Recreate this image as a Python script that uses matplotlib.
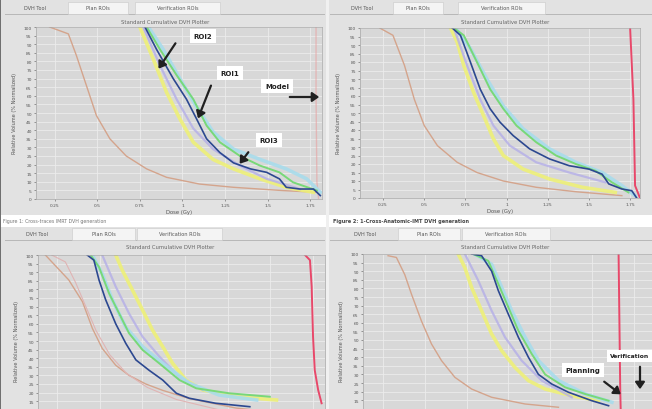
import numpy as np
import matplotlib
matplotlib.use("Agg")
import matplotlib.pyplot as plt
from matplotlib.patches import Rectangle, FancyArrowPatch

W, H = 652, 410

# ---- data (dose in Gy, relative volume in %) ----
# panel 1 (top left)
p1_tan_x = [0.22, 0.33, 0.377, 0.436, 0.495, 0.574, 0.67, 0.79, 0.907, 1.10, 1.30, 1.59, 1.79]
p1_tan_y = [100, 96, 83.5, 66, 48.5, 35, 25, 17.5, 12.6, 8.7, 6.8, 4.9, 3.9]
p1_yel_x = [0.75, 0.828, 0.907, 0.985, 1.064, 1.18, 1.30, 1.456, 1.61, 1.77]
p1_yel_y = [100, 81.5, 62, 46.6, 33, 23, 17.5, 11.7, 6.8, 3.9]
p1_lav_x = [0.77, 0.868, 0.966, 1.064, 1.18, 1.338, 1.495, 1.69]
p1_lav_y = [100, 77.7, 58, 41, 29, 19.4, 11.7, 5.8]
p1_cyan_x = [0.80, 0.887, 0.985, 1.08, 1.18, 1.30, 1.456, 1.61, 1.73, 1.81]
p1_cyan_y = [100, 87, 70, 54, 39, 29, 23, 17.5, 11.7, 3.9]
p1_grn_x = [0.79, 0.868, 0.966, 1.064, 1.142, 1.22, 1.338, 1.456, 1.57, 1.65, 1.79]
p1_grn_y = [100, 87, 72, 58, 42.7, 33, 25, 19.4, 15.5, 9.7, 4.9]
p1_blue_x = [0.78, 0.848, 0.946, 1.024, 1.083, 1.142, 1.22, 1.30, 1.40, 1.495, 1.57, 1.61, 1.69, 1.77, 1.81]
p1_blue_y = [100, 87, 70, 58, 46.6, 35, 27, 21, 17.5, 15.5, 11.7, 6.8, 5.8, 5.8, 2]
p1_red_x = [1.785, 1.785, 1.79, 1.80]
p1_red_y = [100, 60, 10, 0]

# panel 2 (top right)
p2_tan_x = [0.23, 0.31, 0.38, 0.44, 0.50, 0.58, 0.70, 0.82, 0.98, 1.18, 1.42, 1.70]
p2_tan_y = [100, 95.7, 78, 58, 42.6, 30.8, 21, 15, 10, 6.3, 3.7, 1.4]
p2_yel_x = [0.66, 0.70, 0.74, 0.80, 0.86, 0.92, 0.98, 1.10, 1.26, 1.46, 1.66]
p2_yel_y = [100, 91.7, 78, 62, 48.5, 34.8, 25, 17, 11.2, 6.3, 3.3]
p2_lav_x = [0.68, 0.76, 0.84, 0.92, 1.02, 1.18, 1.38, 1.60]
p2_lav_y = [100, 78, 58, 42.6, 30.8, 21, 15, 9.2]
p2_cyan_x = [0.69, 0.78, 0.88, 0.98, 1.10, 1.26, 1.42, 1.58, 1.70, 1.78]
p2_cyan_y = [100, 88, 70, 54, 40.7, 28.9, 21, 15, 7.3, 1.4]
p2_grn_x = [0.68, 0.74, 0.82, 0.90, 0.98, 1.06, 1.18, 1.30, 1.42, 1.54, 1.64, 1.74]
p2_grn_y = [100, 95.7, 80, 64, 52.5, 42.6, 32.8, 25, 20, 16, 9.2, 3.3]
p2_blue_x = [0.67, 0.72, 0.78, 0.84, 0.90, 0.96, 1.04, 1.14, 1.26, 1.38, 1.50, 1.58, 1.62, 1.70, 1.76, 1.79]
p2_blue_y = [100, 95.7, 80, 64, 52.5, 44.6, 36.7, 28.9, 23, 19, 17, 14, 8.3, 5.3, 4.3, 0]
p2_red_x = [1.75, 1.77, 1.78, 1.81]
p2_red_y = [100, 58, 7.3, 0]

# panel 3 (bottom left)
p3_tan_x = [0.183, 0.32, 0.40, 0.458, 0.516, 0.595, 0.673, 0.771, 0.87, 1.026, 1.30, 1.69]
p3_tan_y = [100, 85.5, 72.9, 57.4, 45.7, 35.9, 30, 25, 21.3, 16.5, 11, 7]
p3_rose_x = [0.22, 0.30, 0.36, 0.42, 0.48, 0.56, 0.66, 0.78, 0.95, 1.20]
p3_rose_y = [100, 96, 84, 70, 56, 42, 31, 23, 16, 10]
p3_yel_x = [0.595, 0.634, 0.693, 0.752, 0.81, 0.87, 0.928, 1.006, 1.105, 1.30, 1.536]
p3_yel_y = [100, 91, 79.6, 68, 56.4, 46.7, 37, 27.3, 21.5, 17.6, 15.7]
p3_lav_x = [0.516, 0.595, 0.673, 0.752, 0.85, 0.968, 1.105]
p3_lav_y = [100, 81.6, 66, 52.5, 41, 29, 21.5]
p3_cyan_x = [0.458, 0.516, 0.575, 0.654, 0.752, 0.87, 1.026, 1.20, 1.42]
p3_cyan_y = [100, 89, 74, 58, 46.7, 37, 25.4, 18.6, 15.7]
p3_grn_x = [0.448, 0.497, 0.556, 0.615, 0.673, 0.752, 0.85, 0.968, 1.066, 1.26, 1.497]
p3_grn_y = [100, 93, 77.7, 66, 54.5, 44.8, 37, 27.3, 22.5, 19.6, 17.6]
p3_blue_x = [0.428, 0.467, 0.497, 0.536, 0.595, 0.654, 0.713, 0.79, 0.87, 0.95, 1.026, 1.18, 1.38]
p3_blue_y = [100, 97, 85.5, 74, 60, 48.6, 39, 33, 27.3, 19.6, 16.7, 13.8, 11.8]
p3_red_x = [1.703, 1.732, 1.742, 1.75, 1.76, 1.78, 1.80]
p3_red_y = [100, 97, 81.6, 52.5, 33, 21.5, 13.8]

# panel 4 (bottom right)
p4_tan_x = [0.28, 0.33, 0.38, 0.42, 0.48, 0.54, 0.60, 0.68, 0.78, 0.90, 1.10, 1.30]
p4_tan_y = [99, 98, 88, 76.7, 61, 47.7, 38, 28.3, 21.5, 16.7, 12.8, 10.9]
p4_yel_x = [0.70, 0.74, 0.78, 0.84, 0.90, 0.96, 1.04, 1.12, 1.22, 1.38, 1.54]
p4_yel_y = [100, 92, 80.6, 67, 53.5, 43.8, 34, 26.4, 21.5, 17.6, 14.7]
p4_lav_x = [0.74, 0.82, 0.90, 0.98, 1.08, 1.20, 1.38]
p4_lav_y = [100, 84.5, 67, 51.6, 38, 26.4, 16.7]
p4_cyan_x = [0.80, 0.90, 0.96, 1.02, 1.10, 1.18, 1.30, 1.46, 1.62]
p4_cyan_y = [100, 94, 80.6, 67, 51.6, 38, 26.4, 18.6, 13.8]
p4_grn_x = [0.79, 0.88, 0.94, 1.0, 1.06, 1.14, 1.22, 1.34, 1.46, 1.60]
p4_grn_y = [100, 96, 82.6, 69, 55.4, 41.9, 30, 22.5, 18.6, 14.7]
p4_blue_x = [0.78, 0.84, 0.90, 0.94, 1.0, 1.06, 1.12, 1.18, 1.26, 1.36, 1.50, 1.60]
p4_blue_y = [100, 99, 90, 78.7, 65, 51.6, 40, 30, 24.4, 19.6, 14.7, 11.8]
p4_red_x = [1.66, 1.665, 1.67, 1.675]
p4_red_y = [100, 60, 20, 0]

dose_ticks = [0.25, 0.5, 0.75, 1.0, 1.25, 1.5, 1.75]
dose_labels = ["0.25", "0.5", "0.75", "1", "1.25", "1.5", "1.75"]
vol_ticks = list(range(0, 101, 5))

tab_names = ["DVH Tool", "Plan ROIs", "Verification ROIs"]
plot_title = "Standard Cumulative DVH Plotter"
ylab = "Relative Volume (% Normalized)"
xlab = "Dose (Gy)"
cap1 = "Figure 1: Cross-traces IMRT DVH generation"
cap2 = "Figure 2: 1-Cross-Anatomic-IMT DVH generation"

# line styles: (colour, width, alpha)
styles = {
    "tan": ("#d4a48c", 1.0, 1.0),
    "rose": ("#e0b4b4", 0.8, 1.0),
    "yel": ("#eef078", 2.6, 0.9),
    "lav": ("#b4aee8", 1.6, 0.8),
    "cyan": ("#a8dcec", 2.6, 0.9),
    "grn": ("#78d878", 1.4, 1.0),
    "blue": ("#2c4890", 1.2, 1.0),
    "red": ("#e8486a", 1.4, 1.0),
    "faintred": ("#e8a0a0", 1.0, 0.6),
}

fig = plt.figure(figsize=(W / 100, H / 100), dpi=100)
fig.patch.set_facecolor("#e2e2e2")


def px_axes(l, t, r, b):
    return fig.add_axes([l / W, 1 - b / H, (r - l) / W, (b - t) / H])


def fig_rect(l, t, r, b, **kw):
    fig.patches.append(Rectangle((l / W, 1 - b / H), (r - l) / W, (b - t) / H,
                                 transform=fig.transFigure, figure=fig, **kw))


def fig_txt(x, y, s, **kw):
    fig.text(x / W, 1 - y / H, s, **kw)


def tabs(y0, x_dvh, plan_box, ver_box, right):
    fig_rect(5 if x_dvh < 300 else 330, y0 + 13, right, y0 + 13.6, color="#b8b8b8", lw=0)
    fig_txt(x_dvh, y0 + 7, tab_names[0], fontsize=3.6, color="#555555", ha="center", va="center")
    for (l, r), name in zip([plan_box, ver_box], tab_names[1:]):
        fig_rect(l, y0 + 1, r, y0 + 13, facecolor="#f4f4f4", edgecolor="#c8c8c8", lw=0.4)
        fig_txt((l + r) / 2, y0 + 7, name, fontsize=3.6, color="#555555", ha="center", va="center")


def panel(box, xlim, curves, top_labels=True):
    ax = px_axes(*box)
    ax.set_facecolor("#d8d8d8")
    for key, (xs, ys) in curves:
        c, lw, a = styles[key]
        ax.plot(xs, ys, color=c, lw=lw, alpha=a, solid_joinstyle="round")
    ax.set_xlim(*xlim)
    ax.set_ylim(0, 100)
    ax.set_xticks(dose_ticks)
    ax.set_xticklabels(dose_labels if top_labels else [])
    ax.set_yticks(vol_ticks)
    # bottom row is cut off by the screenshot edge, so skip the lowest labels there
    ax.set_yticklabels([str(v) if (top_labels or v > 10) else "" for v in vol_ticks])
    ax.tick_params(labelsize=3.2, length=1.5, width=0.4, colors="#555555", pad=1.5)
    ax.grid(True, color="#ececec", lw=0.6)
    ax.set_axisbelow(True)
    for s in ax.spines.values():
        s.set_color("#a8a8a8")
        s.set_linewidth(0.5)
    ax.set_ylabel(ylab, fontsize=3.6, color="#555555", labelpad=5)
    if top_labels:
        ax.set_xlabel(xlab, fontsize=3.8, color="#555555", labelpad=1.5)
    return ax


# caption strip and divider
fig_rect(0, 216, W, 228, color="#ffffff", lw=0)
fig_txt(3, 222, cap1, fontsize=3.4, color="#777777", va="center")
fig_txt(333, 222, cap2, fontsize=3.6, color="#444444", va="center", fontweight="bold")
fig_rect(325.5, 0, 328.5, H, color="#f0f0f0", lw=0)
fig_rect(0, 0, 1.2, H, color="#707070", lw=0)
fig_rect(328, 0, W, 1.2, color="#707070", lw=0)

tabs(2, 35, (68, 128), (135, 220), 325)
tabs(2, 362, (393, 443), (458, 545), W)
tabs(228, 37, (72, 135), (137, 222), 325)
tabs(228, 365, (398, 460), (462, 550), W)

fig_txt(165, 22, plot_title, fontsize=3.8, color="#666666", ha="center", va="center")
fig_txt(505, 23, plot_title, fontsize=3.8, color="#666666", ha="center", va="center")
fig_txt(170, 248, plot_title, fontsize=3.8, color="#666666", ha="center", va="center")
fig_txt(505, 248, plot_title, fontsize=3.8, color="#666666", ha="center", va="center")

panel((36, 28, 322, 200), (0.14, 1.82), [
    ("faintred", (p1_red_x, p1_red_y)), ("tan", (p1_tan_x, p1_tan_y)),
    ("yel", (p1_yel_x, p1_yel_y)), ("lav", (p1_lav_x, p1_lav_y)),
    ("cyan", (p1_cyan_x, p1_cyan_y)), ("grn", (p1_grn_x, p1_grn_y)),
    ("blue", (p1_blue_x, p1_blue_y))])
panel((360, 29, 640, 199), (0.11, 1.81), [
    ("tan", (p2_tan_x, p2_tan_y)), ("yel", (p2_yel_x, p2_yel_y)),
    ("lav", (p2_lav_x, p2_lav_y)), ("cyan", (p2_cyan_x, p2_cyan_y)),
    ("grn", (p2_grn_x, p2_grn_y)), ("blue", (p2_blue_x, p2_blue_y)),
    ("red", (p2_red_x, p2_red_y))])
panel((38, 256, 325, 428), (0.14, 1.82), [
    ("tan", (p3_tan_x, p3_tan_y)), ("rose", (p3_rose_x, p3_rose_y)),
    ("yel", (p3_yel_x, p3_yel_y)), ("lav", (p3_lav_x, p3_lav_y)),
    ("cyan", (p3_cyan_x, p3_cyan_y)), ("grn", (p3_grn_x, p3_grn_y)),
    ("blue", (p3_blue_x, p3_blue_y)), ("red", (p3_red_x, p3_red_y))],
    top_labels=False)
panel((363, 255, 652, 427), (0.13, 1.86), [
    ("tan", (p4_tan_x, p4_tan_y)), ("yel", (p4_yel_x, p4_yel_y)),
    ("lav", (p4_lav_x, p4_lav_y)), ("cyan", (p4_cyan_x, p4_cyan_y)),
    ("grn", (p4_grn_x, p4_grn_y)), ("blue", (p4_blue_x, p4_blue_y)),
    ("red", (p4_red_x, p4_red_y))],
    top_labels=False)

# callouts (figure pixel positions, y measured from top)
box = dict(boxstyle="square,pad=0.55", facecolor="white", edgecolor="none")
arrow = dict(arrowstyle="-|>,head_length=0.5,head_width=0.35", color="#202020", lw=1.6)


def callout(text, tx, ty, x0, y0, x1, y1, ha="center", size=5):
    fig_txt(tx, ty, text, fontsize=size, fontweight="bold", color="#222222",
            ha=ha, va="center", bbox=box)
    fig.add_artist(FancyArrowPatch(
        (x0 / W, 1 - y0 / H), (x1 / W, 1 - y1 / H), transform=fig.transFigure,
        mutation_scale=8, **arrow))


callout("ROI2", 203, 37, 177, 42, 157, 72)
callout("ROI1", 230, 74, 212, 84, 197, 122)
callout("Model", 277, 87, 287, 98, 322, 98)
callout("ROI3", 269, 141, 250, 151, 238, 167)
callout("Planning", 583, 371, 602, 381, 623, 397)
callout("Verification", 610, 357, 640, 365, 640, 393, ha="left", size=4.3)

fig.savefig("out.png", dpi=100)
